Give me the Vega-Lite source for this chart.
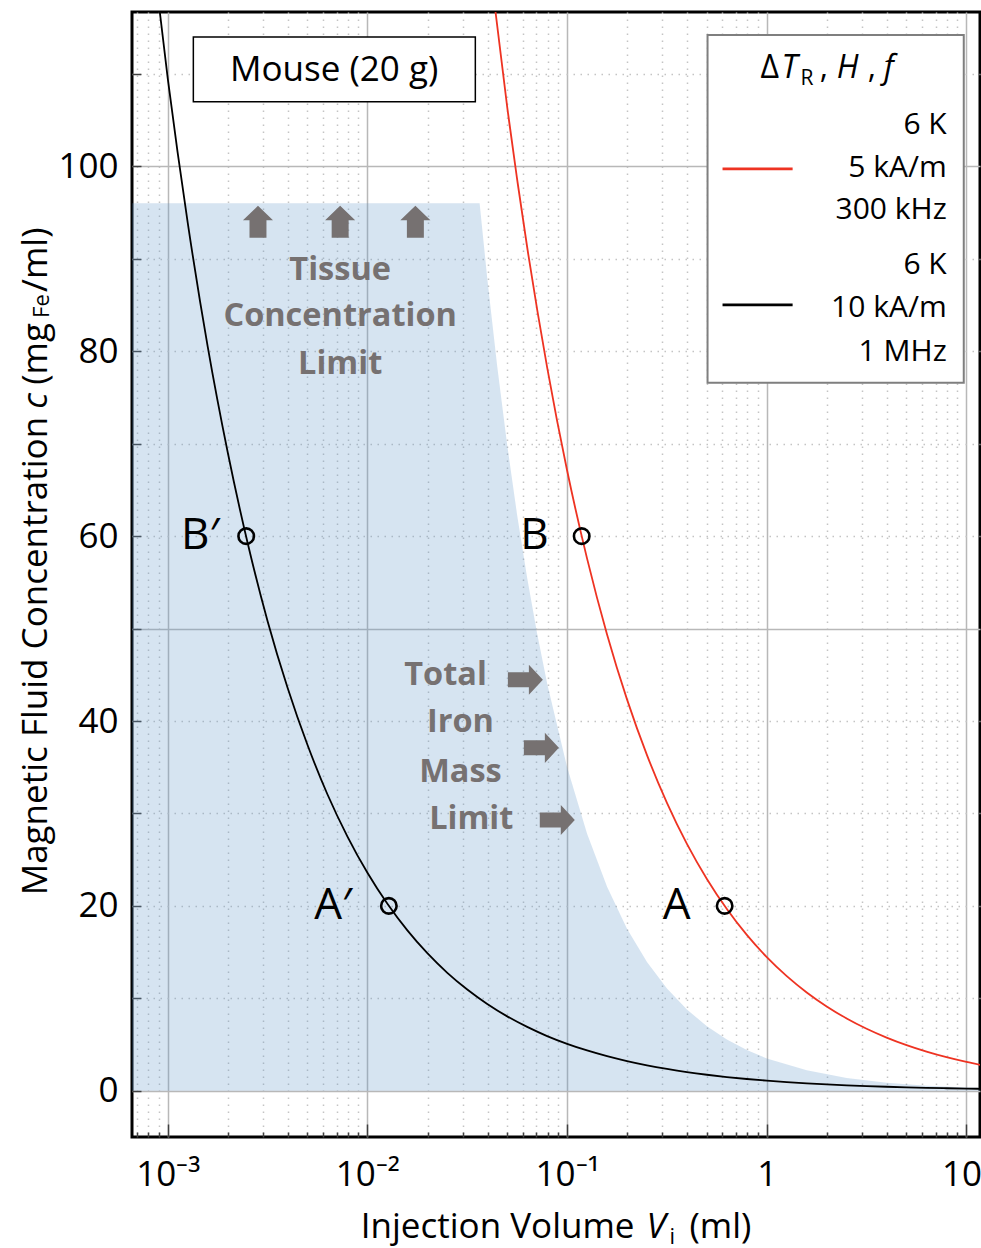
{
 "$schema": "https://vega.github.io/schema/vega-lite/v6.json",
 "width": 848,
 "height": 1125,
 "autosize": {"type": "none"},
 "padding": {"left": 132, "top": 12, "right": 1, "bottom": 111},
 "background": "white",
 "config": {
  "view": {"stroke": "black", "strokeWidth": 3},
  "font": "Open Sans",
  "text": {"font": "Open Sans"}
 },
 "datasets": {
  "limit": [
   {"V": 0.000662, "c": 96}, {"V": 0.03646, "c": 96}, {"V": 0.03981, "c": 87.9}, {"V": 0.04467, "c": 78.35},
   {"V": 0.05012, "c": 69.83}, {"V": 0.05623, "c": 62.24}, {"V": 0.0631, "c": 55.47}, {"V": 0.07079, "c": 49.44},
   {"V": 0.07943, "c": 44.06}, {"V": 0.1, "c": 35.0}, {"V": 0.1259, "c": 27.8}, {"V": 0.1585, "c": 22.08},
   {"V": 0.1995, "c": 17.54}, {"V": 0.2512, "c": 13.93}, {"V": 0.3162, "c": 11.07}, {"V": 0.3981, "c": 8.79},
   {"V": 0.5012, "c": 6.98}, {"V": 0.631, "c": 5.55}, {"V": 0.7943, "c": 4.41}, {"V": 1, "c": 3.5},
   {"V": 1.585, "c": 2.21}, {"V": 2.512, "c": 1.393}, {"V": 3.981, "c": 0.879}, {"V": 6.31, "c": 0.555},
   {"V": 10, "c": 0.35}, {"V": 12.59, "c": 0.278}
  ],
  "curves": [
   {"series": "6 K, 10 kA/m, 1 MHz", "V": 0.000794, "c": 127.6},
   {"series": "6 K, 10 kA/m, 1 MHz", "V": 0.001, "c": 109.5},
   {"series": "6 K, 10 kA/m, 1 MHz", "V": 0.001259, "c": 93.9},
   {"series": "6 K, 10 kA/m, 1 MHz", "V": 0.001585, "c": 80.5},
   {"series": "6 K, 10 kA/m, 1 MHz", "V": 0.001995, "c": 69.1},
   {"series": "6 K, 10 kA/m, 1 MHz", "V": 0.002512, "c": 59.25},
   {"series": "6 K, 10 kA/m, 1 MHz", "V": 0.003162, "c": 50.8},
   {"series": "6 K, 10 kA/m, 1 MHz", "V": 0.003981, "c": 43.6},
   {"series": "6 K, 10 kA/m, 1 MHz", "V": 0.005012, "c": 37.4},
   {"series": "6 K, 10 kA/m, 1 MHz", "V": 0.00631, "c": 32.05},
   {"series": "6 K, 10 kA/m, 1 MHz", "V": 0.007943, "c": 27.5},
   {"series": "6 K, 10 kA/m, 1 MHz", "V": 0.01, "c": 23.58},
   {"series": "6 K, 10 kA/m, 1 MHz", "V": 0.01259, "c": 20.23},
   {"series": "6 K, 10 kA/m, 1 MHz", "V": 0.01585, "c": 17.35},
   {"series": "6 K, 10 kA/m, 1 MHz", "V": 0.01995, "c": 14.88},
   {"series": "6 K, 10 kA/m, 1 MHz", "V": 0.02512, "c": 12.76},
   {"series": "6 K, 10 kA/m, 1 MHz", "V": 0.03162, "c": 10.95},
   {"series": "6 K, 10 kA/m, 1 MHz", "V": 0.03981, "c": 9.39},
   {"series": "6 K, 10 kA/m, 1 MHz", "V": 0.05012, "c": 8.05},
   {"series": "6 K, 10 kA/m, 1 MHz", "V": 0.0631, "c": 6.91},
   {"series": "6 K, 10 kA/m, 1 MHz", "V": 0.07943, "c": 5.92},
   {"series": "6 K, 10 kA/m, 1 MHz", "V": 0.1, "c": 5.08},
   {"series": "6 K, 10 kA/m, 1 MHz", "V": 0.1259, "c": 4.36},
   {"series": "6 K, 10 kA/m, 1 MHz", "V": 0.1585, "c": 3.74},
   {"series": "6 K, 10 kA/m, 1 MHz", "V": 0.1995, "c": 3.21},
   {"series": "6 K, 10 kA/m, 1 MHz", "V": 0.2512, "c": 2.75},
   {"series": "6 K, 10 kA/m, 1 MHz", "V": 0.3162, "c": 2.36},
   {"series": "6 K, 10 kA/m, 1 MHz", "V": 0.3981, "c": 2.02},
   {"series": "6 K, 10 kA/m, 1 MHz", "V": 0.5012, "c": 1.735},
   {"series": "6 K, 10 kA/m, 1 MHz", "V": 0.631, "c": 1.488},
   {"series": "6 K, 10 kA/m, 1 MHz", "V": 0.7943, "c": 1.276},
   {"series": "6 K, 10 kA/m, 1 MHz", "V": 1, "c": 1.095},
   {"series": "6 K, 10 kA/m, 1 MHz", "V": 1.259, "c": 0.939},
   {"series": "6 K, 10 kA/m, 1 MHz", "V": 1.585, "c": 0.805},
   {"series": "6 K, 10 kA/m, 1 MHz", "V": 1.995, "c": 0.691},
   {"series": "6 K, 10 kA/m, 1 MHz", "V": 2.512, "c": 0.592},
   {"series": "6 K, 10 kA/m, 1 MHz", "V": 3.162, "c": 0.508},
   {"series": "6 K, 10 kA/m, 1 MHz", "V": 3.981, "c": 0.436},
   {"series": "6 K, 10 kA/m, 1 MHz", "V": 5.012, "c": 0.374},
   {"series": "6 K, 10 kA/m, 1 MHz", "V": 6.31, "c": 0.32},
   {"series": "6 K, 10 kA/m, 1 MHz", "V": 7.943, "c": 0.275},
   {"series": "6 K, 10 kA/m, 1 MHz", "V": 10, "c": 0.236},
   {"series": "6 K, 10 kA/m, 1 MHz", "V": 12.59, "c": 0.202},
   {"series": "6 K, 5 kA/m, 300 kHz", "V": 0.03981, "c": 124.0},
   {"series": "6 K, 5 kA/m, 300 kHz", "V": 0.05012, "c": 106.4},
   {"series": "6 K, 5 kA/m, 300 kHz", "V": 0.0631, "c": 91.25},
   {"series": "6 K, 5 kA/m, 300 kHz", "V": 0.07943, "c": 78.26},
   {"series": "6 K, 5 kA/m, 300 kHz", "V": 0.1, "c": 67.1},
   {"series": "6 K, 5 kA/m, 300 kHz", "V": 0.1259, "c": 57.57},
   {"series": "6 K, 5 kA/m, 300 kHz", "V": 0.1585, "c": 49.37},
   {"series": "6 K, 5 kA/m, 300 kHz", "V": 0.1995, "c": 42.34},
   {"series": "6 K, 5 kA/m, 300 kHz", "V": 0.2512, "c": 36.31},
   {"series": "6 K, 5 kA/m, 300 kHz", "V": 0.3162, "c": 31.15},
   {"series": "6 K, 5 kA/m, 300 kHz", "V": 0.3981, "c": 26.71},
   {"series": "6 K, 5 kA/m, 300 kHz", "V": 0.5012, "c": 22.92},
   {"series": "6 K, 5 kA/m, 300 kHz", "V": 0.631, "c": 19.66},
   {"series": "6 K, 5 kA/m, 300 kHz", "V": 0.7943, "c": 16.86},
   {"series": "6 K, 5 kA/m, 300 kHz", "V": 1, "c": 14.46},
   {"series": "6 K, 5 kA/m, 300 kHz", "V": 1.259, "c": 12.4},
   {"series": "6 K, 5 kA/m, 300 kHz", "V": 1.585, "c": 10.64},
   {"series": "6 K, 5 kA/m, 300 kHz", "V": 1.995, "c": 9.125},
   {"series": "6 K, 5 kA/m, 300 kHz", "V": 2.512, "c": 7.826},
   {"series": "6 K, 5 kA/m, 300 kHz", "V": 3.162, "c": 6.711},
   {"series": "6 K, 5 kA/m, 300 kHz", "V": 3.981, "c": 5.757},
   {"series": "6 K, 5 kA/m, 300 kHz", "V": 5.012, "c": 4.937},
   {"series": "6 K, 5 kA/m, 300 kHz", "V": 6.31, "c": 4.234},
   {"series": "6 K, 5 kA/m, 300 kHz", "V": 7.943, "c": 3.631},
   {"series": "6 K, 5 kA/m, 300 kHz", "V": 10, "c": 3.115},
   {"series": "6 K, 5 kA/m, 300 kHz", "V": 12.59, "c": 2.671}
  ],
  "markers": [
   {"point": "B′", "V": 0.00247, "c": 60},
   {"point": "A′", "V": 0.0128, "c": 20},
   {"point": "B", "V": 0.1183, "c": 60},
   {"point": "A", "V": 0.615, "c": 20}
  ],
  "boxes": [
   {"box": "mouse", "V": 0.001343, "V2": 0.0347, "c": 107.0, "c2": 114.0},
   {"box": "key", "V": 0.505, "V2": 9.694, "c": 76.6, "c2": 114.2}
  ],
  "keylines": [
   {"series": "6 K, 5 kA/m, 300 kHz", "V": 0.6003, "V2": 1.347, "c": 99.73},
   {"series": "6 K, 10 kA/m, 1 MHz", "V": 0.6003, "V2": 1.347, "c": 85.02}
  ],
  "arrows": [
   {"dir": "up", "V": 0.00283, "c": 94.0},
   {"dir": "up", "V": 0.0073, "c": 94.0},
   {"dir": "up", "V": 0.01738, "c": 94.0},
   {"dir": "right", "V": 0.0618, "c": 44.46},
   {"dir": "right", "V": 0.0743, "c": 37.1},
   {"dir": "right", "V": 0.0893, "c": 29.3}
  ],
  "notes": [
   {"kind": "point", "label": "B′", "V": 0.001456, "c": 60},
   {"kind": "point", "label": "B", "V": 0.0687, "c": 60},
   {"kind": "point", "label": "A′", "V": 0.00673, "c": 20},
   {"kind": "point", "label": "A", "V": 0.3535, "c": 20},
   {"kind": "limit", "label": "Tissue", "V": 0.0073, "c": 88.8},
   {"kind": "limit", "label": "Concentration", "V": 0.0073, "c": 83.83},
   {"kind": "limit", "label": "Limit", "V": 0.0073, "c": 78.64},
   {"kind": "limit", "label": "Total", "V": 0.0246, "c": 45.0},
   {"kind": "limit", "label": "Iron", "V": 0.02924, "c": 39.91},
   {"kind": "limit", "label": "Mass", "V": 0.02924, "c": 34.5},
   {"kind": "limit", "label": "Limit", "V": 0.03312, "c": 29.42},
   {"kind": "mouse", "label": "Mouse (20 g)", "V": 0.00681, "c": 110.4},
   {"kind": "key", "label": "6 K", "V": 7.965, "c": 104.5},
   {"kind": "key", "label": "5 kA/m", "V": 7.965, "c": 99.84},
   {"kind": "key", "label": "300 kHz", "V": 7.965, "c": 95.3},
   {"kind": "key", "label": "6 K", "V": 7.965, "c": 89.35},
   {"kind": "key", "label": "10 kA/m", "V": 7.965, "c": 84.7},
   {"kind": "key", "label": "1 MHz", "V": 7.965, "c": 79.9},
   {"kind": "keyT", "label": "Δ", "V": 0.931, "c": 110.65},
   {"kind": "keyTi", "label": "T", "V": 1.185, "c": 110.65},
   {"kind": "keySub", "label": "R", "V": 1.476, "c": 109.5},
   {"kind": "keyT", "label": ",", "V": 1.84, "c": 110.65},
   {"kind": "keyTi", "label": "H", "V": 2.239, "c": 110.65},
   {"kind": "keyT", "label": ",", "V": 3.201, "c": 110.65},
   {"kind": "keyTi", "label": "f", "V": 3.851, "c": 110.65},
   {"kind": "yR", "label": "Magnetic Fluid Concentration", "V": 0.000248, "c": 72.9},
   {"kind": "yI", "label": "c", "V": 0.000248, "c": 73.77},
   {"kind": "yL", "label": "(mg", "V": 0.000248, "c": 76.37},
   {"kind": "yS", "label": "Fe", "V": 0.000254, "c": 83.61},
   {"kind": "yL", "label": "/ml)", "V": 0.000248, "c": 86.42},
   {"kind": "xR", "label": "Injection Volume", "V": 0.2175, "c": -15.9},
   {"kind": "xI", "label": "V", "V": 0.2497, "c": -15.9},
   {"kind": "xS", "label": "i", "V": 0.3257, "c": -16.55},
   {"kind": "xL", "label": "(ml)", "V": 0.4102, "c": -15.9}
  ]
 },
 "encoding": {
  "x": {
   "field": "V", "type": "quantitative",
   "scale": {"type": "log", "domain": [0.000662, 11.69], "nice": false},
   "axis": {
    "values": [0.0007, 0.0008, 0.0009, 0.001, 0.002, 0.003, 0.004, 0.005, 0.006, 0.007, 0.008, 0.009, 0.01, 0.02, 0.03, 0.04, 0.05, 0.06, 0.07, 0.08, 0.09, 0.1, 0.2, 0.3, 0.4, 0.5, 0.6, 0.7, 0.8, 0.9, 1, 2, 3, 4, 5, 6, 7, 8, 9, 10],
    "labelExpr": "datum.value == 0.001 ? '10⁻³' : datum.value == 0.01 ? '10⁻²' : datum.value == 0.1 ? '10⁻¹' : datum.value == 1 ? '1' : datum.value == 10 ? '10' : ''",
    "title": null,
    "domain": false,
    "grid": true,
    "gridColor": {"condition": {"test": "indexof([0.001, 0.01, 0.1, 1, 10], datum.value) >= 0", "value": "#b8b8b8"}, "value": "#c4c4c4"},
    "gridDash": {"condition": {"test": "indexof([0.001, 0.01, 0.1, 1, 10], datum.value) >= 0", "value": []}, "value": [1.5, 5.5]},
    "gridWidth": 1.5,
    "tickSize": {"condition": {"test": "indexof([0.001, 0.01, 0.1, 1, 10], datum.value) >= 0", "value": -13}, "value": -5},
    "tickColor": "#404040",
    "tickWidth": 1.5,
    "labelFontSize": 35,
    "labelFont": "Open Sans",
    "labelColor": "black",
    "labelPadding": 33,
    "labelOffset": {"condition": {"test": "datum.value == 10", "value": -5}, "value": 0},
    "labelFlush": false,
    "labelOverlap": false,
    "labelBound": false
   }
  },
  "y": {
   "field": "c", "type": "quantitative",
   "scale": {"domain": [-5, 116.7], "nice": false, "zero": false},
   "axis": {
    "values": [0, 10, 20, 30, 40, 50, 60, 70, 80, 90, 100, 110],
    "labelExpr": "datum.value % 20 == 0 ? datum.label : ''",
    "title": null,
    "domain": false,
    "grid": true,
    "gridColor": {"condition": {"test": "datum.value % 50 == 0", "value": "#b8b8b8"}, "value": "#c4c4c4"},
    "gridDash": {"condition": {"test": "datum.value % 50 == 0", "value": []}, "value": [1.5, 5.5]},
    "gridWidth": 1.5,
    "tickSize": -9,
    "tickColor": "#404040",
    "tickWidth": 1.5,
    "labelFontSize": 35,
    "labelFont": "Open Sans",
    "labelColor": "black",
    "labelPadding": 23,
    "labelOverlap": false,
    "labelBound": false
   }
  }
 },
 "layer": [
  {"data": {"name": "limit"}, "mark": {"type": "area", "color": "#5b93c7", "opacity": 0.25, "clip": true}, "encoding": {"y2": {"datum": 0}}},
  {"data": {"name": "curves"}, "mark": {"type": "line", "strokeWidth": 1.8, "clip": true, "interpolate": "monotone"},
   "encoding": {"color": {"field": "series", "type": "nominal", "scale": {"domain": ["6 K, 5 kA/m, 300 kHz", "6 K, 10 kA/m, 1 MHz"], "range": ["#ee3322", "#000000"]}, "legend": null}}},
  {"data": {"name": "markers"}, "mark": {"type": "point", "shape": "circle", "filled": false, "size": 240, "strokeWidth": 2.6, "color": "black", "opacity": 1}},
  {"data": {"name": "boxes"}, "transform": [{"filter": "datum.box == 'mouse'"}], "mark": {"type": "rect", "fill": "white", "stroke": "black", "strokeWidth": 1.5}, "encoding": {"x2": {"field": "V2"}, "y2": {"field": "c2"}}},
  {"data": {"name": "boxes"}, "transform": [{"filter": "datum.box == 'key'"}], "mark": {"type": "rect", "fill": "white", "stroke": "#7f7f7f", "strokeWidth": 2}, "encoding": {"x2": {"field": "V2"}, "y2": {"field": "c2"}}},
  {"data": {"name": "keylines"}, "mark": {"type": "rule", "strokeWidth": 2.6}, "encoding": {"x2": {"field": "V2"}, "color": {"field": "series", "type": "nominal", "legend": null}}},
  {"data": {"name": "arrows"}, "transform": [{"filter": "datum.dir == 'up'"}], "mark": {"type": "point", "shape": "M -0.53 1 L -0.53 -0.1 L -0.94 -0.1 L 0 -1 L 0.94 -0.1 L 0.53 -0.1 L 0.53 1 Z", "filled": true, "size": 1024, "color": "#767171", "opacity": 1, "strokeWidth": 0}},
  {"data": {"name": "arrows"}, "transform": [{"filter": "datum.dir == 'right'"}], "mark": {"type": "point", "shape": "M -1 -0.43 L 0.2 -0.43 L 0.2 -0.86 L 1 0 L 0.2 0.86 L 0.2 0.43 L -1 0.43 Z", "filled": true, "size": 1225, "color": "#767171", "opacity": 1, "strokeWidth": 0}},
  {"data": {"name": "notes"}, "transform": [{"filter": "datum.kind == 'point'"}], "mark": {"type": "text", "fontSize": 44, "align": "center", "baseline": "middle", "color": "black"}, "encoding": {"text": {"field": "label"}}},
  {"data": {"name": "notes"}, "transform": [{"filter": "datum.kind == 'limit'"}], "mark": {"type": "text", "fontSize": 32.5, "fontWeight": "bold", "align": "center", "baseline": "middle", "color": "#767171"}, "encoding": {"text": {"field": "label"}}},
  {"data": {"name": "notes"}, "transform": [{"filter": "datum.kind == 'mouse'"}], "mark": {"type": "text", "fontSize": 35, "align": "center", "baseline": "middle", "color": "black"}, "encoding": {"text": {"field": "label"}}},
  {"data": {"name": "notes"}, "transform": [{"filter": "datum.kind == 'key'"}], "mark": {"type": "text", "fontSize": 30, "align": "right", "baseline": "middle", "color": "black"}, "encoding": {"text": {"field": "label"}}},
  {"data": {"name": "notes"}, "transform": [{"filter": "datum.kind == 'keyT'"}], "mark": {"type": "text", "fontSize": 32, "align": "left", "baseline": "middle", "color": "black"}, "encoding": {"text": {"field": "label"}}},
  {"data": {"name": "notes"}, "transform": [{"filter": "datum.kind == 'keyTi'"}], "mark": {"type": "text", "fontSize": 32, "fontStyle": "italic", "align": "left", "baseline": "middle", "color": "black"}, "encoding": {"text": {"field": "label"}}},
  {"data": {"name": "notes"}, "transform": [{"filter": "datum.kind == 'keySub'"}], "mark": {"type": "text", "fontSize": 21, "align": "left", "baseline": "middle", "color": "black"}, "encoding": {"text": {"field": "label"}}},
  {"data": {"name": "notes"}, "transform": [{"filter": "datum.kind == 'yR'"}], "mark": {"type": "text", "fontSize": 35, "angle": 270, "align": "right", "baseline": "alphabetic", "color": "black"}, "encoding": {"text": {"field": "label"}}},
  {"data": {"name": "notes"}, "transform": [{"filter": "datum.kind == 'yI'"}], "mark": {"type": "text", "fontSize": 35, "fontStyle": "italic", "angle": 270, "align": "left", "baseline": "alphabetic", "color": "black"}, "encoding": {"text": {"field": "label"}}},
  {"data": {"name": "notes"}, "transform": [{"filter": "datum.kind == 'yL'"}], "mark": {"type": "text", "fontSize": 35, "angle": 270, "align": "left", "baseline": "alphabetic", "color": "black"}, "encoding": {"text": {"field": "label"}}},
  {"data": {"name": "notes"}, "transform": [{"filter": "datum.kind == 'yS'"}], "mark": {"type": "text", "fontSize": 22, "angle": 270, "align": "left", "baseline": "alphabetic", "color": "black"}, "encoding": {"text": {"field": "label"}}},
  {"data": {"name": "notes"}, "transform": [{"filter": "datum.kind == 'xR'"}], "mark": {"type": "text", "fontSize": 35, "align": "right", "baseline": "alphabetic", "color": "black"}, "encoding": {"text": {"field": "label"}}},
  {"data": {"name": "notes"}, "transform": [{"filter": "datum.kind == 'xI'"}], "mark": {"type": "text", "fontSize": 35, "fontStyle": "italic", "align": "left", "baseline": "alphabetic", "color": "black"}, "encoding": {"text": {"field": "label"}}},
  {"data": {"name": "notes"}, "transform": [{"filter": "datum.kind == 'xS'"}], "mark": {"type": "text", "fontSize": 22, "align": "left", "baseline": "alphabetic", "color": "black"}, "encoding": {"text": {"field": "label"}}},
  {"data": {"name": "notes"}, "transform": [{"filter": "datum.kind == 'xL'"}], "mark": {"type": "text", "fontSize": 35, "align": "left", "baseline": "alphabetic", "color": "black"}, "encoding": {"text": {"field": "label"}}}
 ]
}
